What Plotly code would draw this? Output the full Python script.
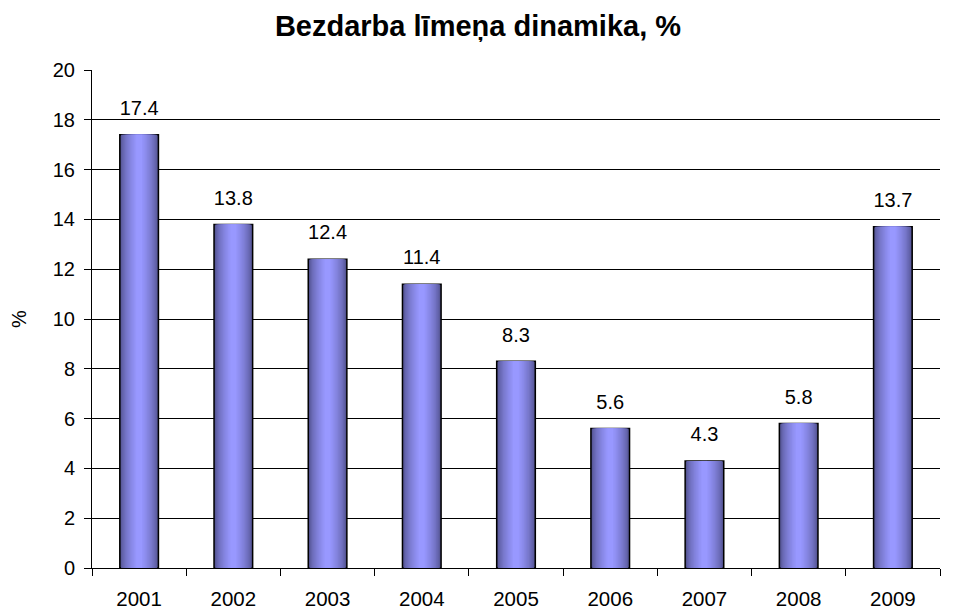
import plotly.graph_objects as go

years = ["2001", "2002", "2003", "2004", "2005", "2006", "2007", "2008", "2009"]
rates = [17.4, 13.8, 12.4, 11.4, 8.3, 5.6, 4.3, 5.8, 13.7]
labels = ["17.4", "13.8", "12.4", "11.4", "8.3", "5.6", "4.3", "5.8", "13.7"]

FONT = "Liberation Sans, Arial, sans-serif"

fig = go.Figure()

# gradient emulation: overlay bars of decreasing width, dark edge -> light center
n_layers = 14
outer_w = 0.41
dark = (74, 74, 130)
light = (152, 152, 255)
for i in range(n_layers):
    t = i / (n_layers - 1)
    w = outer_w * (1 - 0.85 * t)
    c = tuple(int(dark[k] + (light[k] - dark[k]) * (t ** 0.55)) for k in range(3))
    first = i == 0
    fig.add_trace(go.Bar(
        x=years, y=rates, width=w,
        marker=dict(color="rgb(%d,%d,%d)" % c,
                    line=dict(color="black", width=1.5 if first else 0)),
        hoverinfo="skip" if not first else None,
        showlegend=False,
    ))

fig.add_trace(go.Scatter(
    x=years, y=rates, mode="markers+text", text=labels,
    textposition="top center",
    marker=dict(size=22, color="rgba(0,0,0,0)"),
    textfont=dict(family=FONT, size=20, color="black"),
    cliponaxis=False, hoverinfo="skip", showlegend=False,
))

fig.add_annotation(text="%", xref="paper", yref="paper",
                   x=-(92 - 19) / 848, y=0.5, xanchor="center", yanchor="middle",
                   textangle=-90, showarrow=False,
                   font=dict(family=FONT, size=20, color="black"))

fig.update_layout(
    width=956, height=611,
    barmode="overlay",
    paper_bgcolor="white", plot_bgcolor="white",
    margin=dict(l=92, r=16, t=70, b=43),
    title=dict(text="<b>Bezdarba līmeņa dinamika, %</b>", x=0.5, xanchor="center",
               y=1 - 26 / 611, yanchor="middle",
               font=dict(family=FONT, size=29, color="black")),
    font=dict(family=FONT, size=20, color="black"),
    xaxis=dict(type="category", categoryorder="array", categoryarray=years,
               range=[-0.5, len(years) - 0.5], automargin=False,
               showline=True, linecolor="black", linewidth=1,
               ticks="outside", tickson="boundaries", ticklen=7, tickcolor="black",
               ticklabelstandoff=12,
               showgrid=False, tickfont=dict(size=20.5), tickangle=0),
    yaxis=dict(range=[0, 20], dtick=2, showline=True, linecolor="black", linewidth=1,
               automargin=False,
               ticks="outside", ticklen=7, tickcolor="black",
               ticklabelstandoff=5,
               showgrid=True, gridcolor="black", gridwidth=1, zeroline=False,
               tickfont=dict(size=20)),
)

fig.write_html("out.html", config={"displayModeBar": False},
               post_script="document.body.style.margin='0';")
